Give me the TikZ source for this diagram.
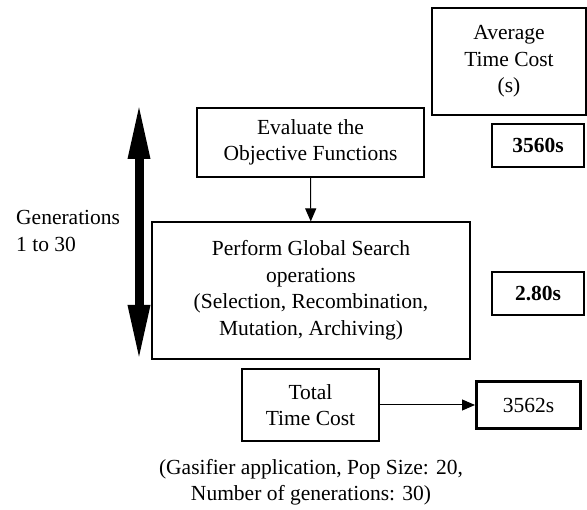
\documentclass[tikz,border=0pt]{standalone}
\usepackage{fontspec}
\setmainfont{Liberation Serif}
\usepackage{tikz}
\usetikzlibrary{positioning,arrows.meta}
\tikzset{
  stepbox/.style={draw, line width=1.1pt, align=center, inner sep=0pt,
                  font=\fontsize{21.5}{26.5}\selectfont},
  valbox/.style={stepbox, minimum width=92pt, minimum height=43pt, font=\fontsize{21.5}{26.5}\selectfont\bfseries},
  fwd/.style={-{Triangle[width=11pt,length=13pt]}, line width=1pt},
  genarrow/.style={{Triangle[width=20pt,length=57pt]}-{Triangle[width=20pt,length=57pt]}, line width=9pt},
  plain/.style={align=left, inner sep=0pt, font=\fontsize{21.5}{26.5}\selectfont},
}

\begin{document}
\begin{tikzpicture}[x=1pt, y=-1pt]
  \useasboundingbox (0,0) rectangle (587,510);

  \node[stepbox, minimum width=154pt, minimum height=107pt] (avghead) at (509,61.5) {Average\\Time Cost\\(s)};
  \node[valbox] (evalcost) at (538,145.5) {3560s};
  \node[valbox] (searchcost) at (538,293.5) {2.80s};

  \node[stepbox, minimum width=227pt, minimum height=69pt] (evaluate) at (310.5,142.5) {Evaluate the\\Objective Functions};
  \node[stepbox, minimum width=318pt, minimum height=137pt] (search) at (311,290.5) {Perform Global Search\\operations\\(Selection, Recombination,\\Mutation, Archiving)};
  \node[stepbox, minimum width=137pt, minimum height=72pt] (total) at (310.5,405) {Total\\Time Cost};
  \node[stepbox, line width=3pt, minimum width=104pt, minimum height=47pt] (totalcost) at (528.5,405) {3562s};

  \node[plain, anchor=west] (gens) at (16,231) {Generations\\1 to 30};
  \node[plain, align=center] (caption) at (311,482.5) {(Gasifier application, Pop Size: 20,\\Number of generations: 30)};

  \coordinate (gentop) at (139,102);
  \coordinate (genbot) at (139,362);
  \draw[genarrow] (gentop) -- (genbot);

  \draw[fwd] (evaluate) -- (search);
  \draw[fwd] (total) -- (totalcost);

\end{tikzpicture}
\end{document}
